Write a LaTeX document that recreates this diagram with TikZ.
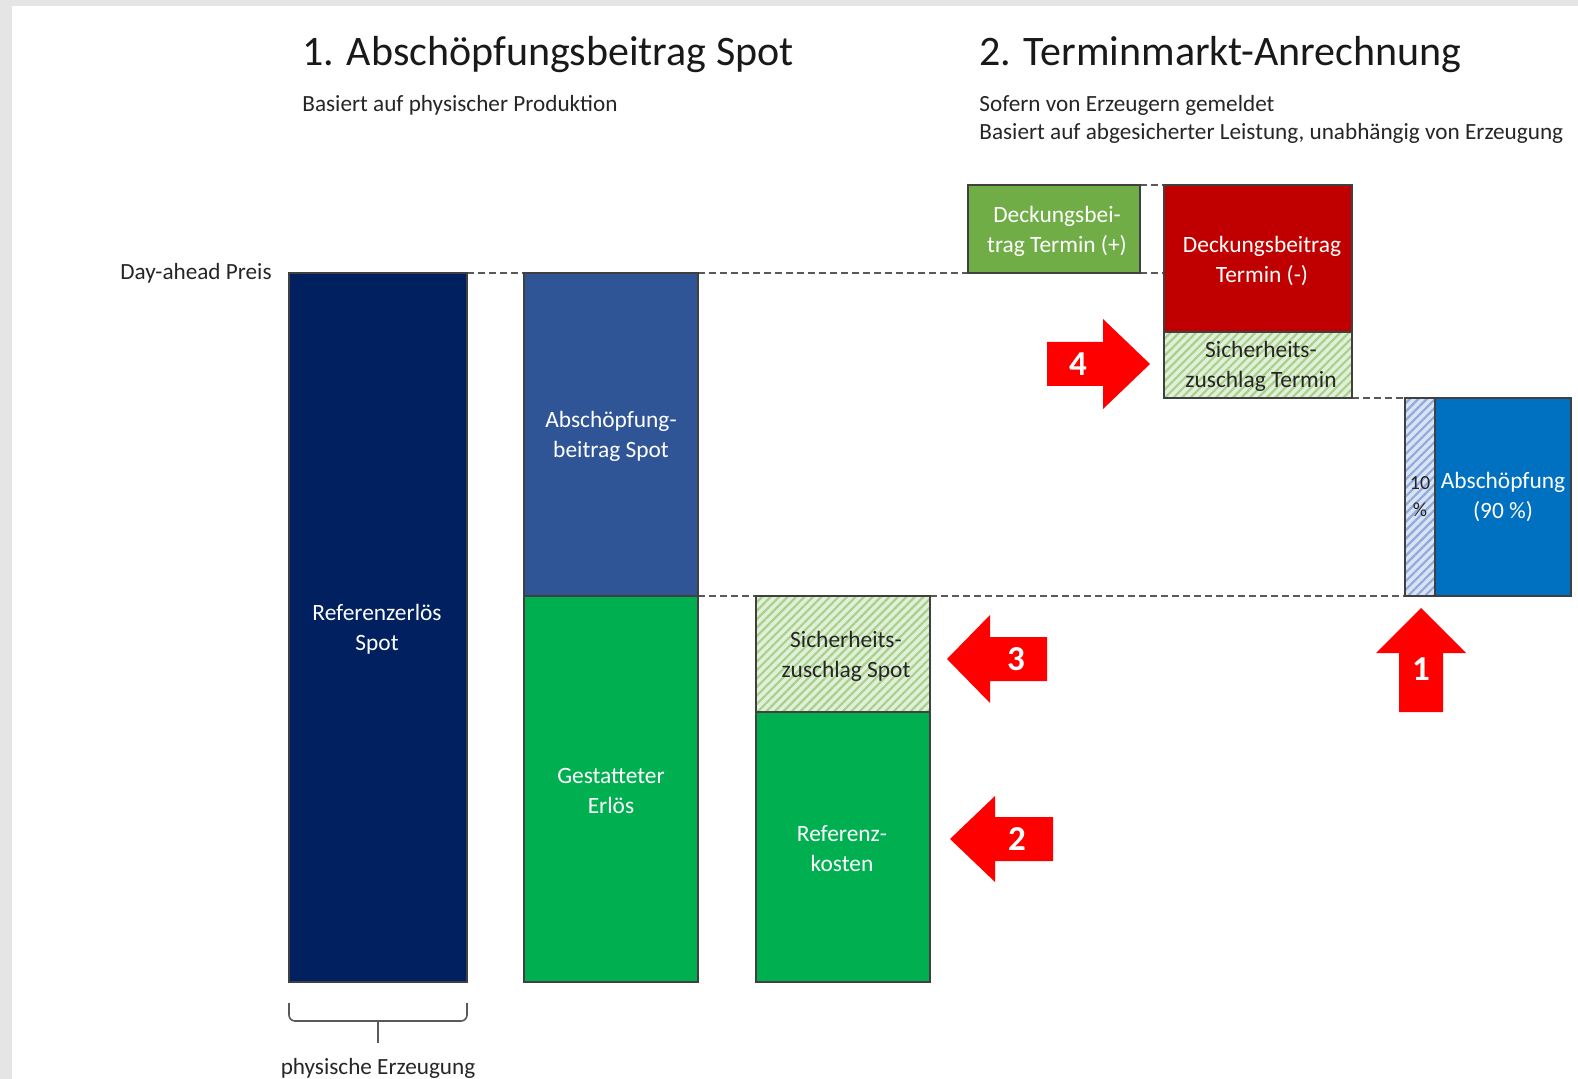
\documentclass[tikz,border=0pt]{standalone}
\usepackage{fontspec}
\setmainfont{Carlito}
\usetikzlibrary{patterns.meta}
\definecolor{navy}{HTML}{002060}
\definecolor{spotblue}{HTML}{2F5597}
\definecolor{okgreen}{HTML}{00B050}
\definecolor{leafgreen}{HTML}{70AD47}
\definecolor{darkred}{HTML}{C00000}
\definecolor{midblue}{HTML}{0070C0}
\definecolor{hatchgreen}{HTML}{A9D18E}
\definecolor{palegreen}{HTML}{E2F0D9}
\definecolor{hatchblue}{HTML}{8FAADC}
\definecolor{paleblue}{HTML}{DAE3F3}
\definecolor{arrowred}{HTML}{FF0000}
\tikzset{
	bar/.style={draw=black!75, line width=0.6pt},
	greenhatch/.style={bar, preaction={fill=palegreen}, pattern={Lines[angle=45,distance=3pt,line width=1.1pt]}, pattern color=hatchgreen},
	bluehatch/.style={bar, preaction={fill=paleblue}, pattern={Lines[angle=45,distance=3pt,line width=1.1pt]}, pattern color=hatchblue},
	lbl/.style={align=center, text=white, font=\fontsize{11.7}{15}\selectfont},
	dlbl/.style={lbl, text=black!85},
	txt/.style={text=black!85, font=\fontsize{11.6}{14}\selectfont, inner sep=0pt},
	head/.style={text=black!90, font=\fontsize{21}{25}\selectfont, inner sep=0pt},
	guide/.style={black!65, line width=0.7pt, dash pattern=on 3.5pt off 2pt},
	bigarrow/.style={fill=arrowred},
	num/.style={text=white, font=\fontsize{17.5}{20}\selectfont\bfseries},
}
\begin{document}
\begin{tikzpicture}[x=0.5pt, y=-0.5pt]
		\useasboundingbox (0,0) rectangle (1578,1079);
		\fill[black!10] (0,0) rectangle (1578,1079);
		\fill[white] (12,6) rectangle (1578,1079);
		\node[head, anchor=base west] (title1) at (302,66) {1. Abschöpfungsbeitrag Spot};
		\node[txt, anchor=base west] (sub1) at (302,112) {Basiert auf physischer Produktion};
		\node[head, anchor=base west] (title2) at (979,66) {2. Terminmarkt-Anrechnung};
		\node[txt, anchor=base west] (sub2a) at (979,112) {Sofern von Erzeugern gemeldet};
		\node[txt, anchor=base west] (sub2b) at (979,140) {Basiert auf abgesicherter Leistung, unabhängig von Erzeugung};
		\node[txt, anchor=base east] (daprice) at (272,280) {Day-ahead Preis};
		\draw[guide] (467,273) -- (524,273) (698,273) -- (968,273) (1140,273) -- (1164,273);
		\draw[guide] (1140,185) -- (1164,185) (1352,398) -- (1405,398);
		\draw[guide] (698,596) -- (756,596) (930,596) -- (1405,596);
		\filldraw[bar, fill=navy] (289,273) rectangle (467,982);
		\node[lbl] (refspot) at (377,629) {Referenzerlös\\Spot};
		\filldraw[bar, fill=spotblue] (524,273) rectangle (698,596);
		\node[lbl] (absspot) at (611,436) {Abschöpfung-\\beitrag Spot};
		\filldraw[bar, fill=okgreen] (524,596) rectangle (698,982);
		\node[lbl] (gestattet) at (611,791) {Gestatteter\\Erlös};
		\path[greenhatch] (756,596) rectangle (930,712);
		\node[dlbl] (sichspot) at (846,656) {Sicherheits-\\zuschlag Spot};
		\filldraw[bar, fill=okgreen] (756,712) rectangle (930,982);
		\node[lbl] (refkosten) at (842,849) {Referenz-\\kosten};
		\filldraw[bar, fill=leafgreen] (968,185) rectangle (1140,273);
		\node[lbl] (dbplus) at (1057,231) {Deckungsbei-\\trag Termin (+)};
		\filldraw[bar, fill=darkred] (1164,185) rectangle (1352,332);
		\node[lbl] (dbminus) at (1262,261) {Deckungsbeitrag\\Termin (-)};
		\path[greenhatch] (1164,332) rectangle (1352,398);
		\node[dlbl] (sichtermin) at (1261,366) {Sicherheits-\\zuschlag Termin};
		\path[bluehatch] (1405,398) rectangle (1435,596);
		\node[dlbl, font=\fontsize{10}{13.5}\selectfont, inner sep=0pt] (zehn) at (1420,497) {10\\\%};
		\filldraw[bar, fill=midblue] (1435,398) rectangle (1571,596);
		\node[lbl] (absterm) at (1503,497) {Abschöpfung\\(90 \%)};
		\fill[bigarrow] (1047,342) -- (1103,342) -- (1103,319) -- (1150,364) -- (1103,409) -- (1103,386) -- (1047,386) -- cycle;
		\node[num] (n4) at (1078,364) {4};
		\fill[bigarrow] (1047,637) -- (990,637) -- (990,615) -- (947,659) -- (990,703) -- (990,681) -- (1047,681) -- cycle;
		\node[num] (n3) at (1016,659) {3};
		\fill[bigarrow] (1053,817) -- (995,817) -- (995,796) -- (950,839) -- (995,882) -- (995,861) -- (1053,861) -- cycle;
		\node[num] (n2) at (1017,839) {2};
		\fill[bigarrow] (1399,712) -- (1399,653) -- (1376,653) -- (1421,608) -- (1466,653) -- (1443,653) -- (1443,712) -- cycle;
		\node[num] (n1) at (1421,669) {1};
		\draw[black!65, line width=0.8pt, rounded corners=3pt] (289,1003) -- (289,1021) -- (378,1021) -- (467,1021) -- (467,1003);
		\draw[black!65, line width=0.8pt] (378,1021) -- (378,1043);
		\node[txt, anchor=base] (physisch) at (378,1074) {physische Erzeugung};
	\end{tikzpicture}
\end{document}
